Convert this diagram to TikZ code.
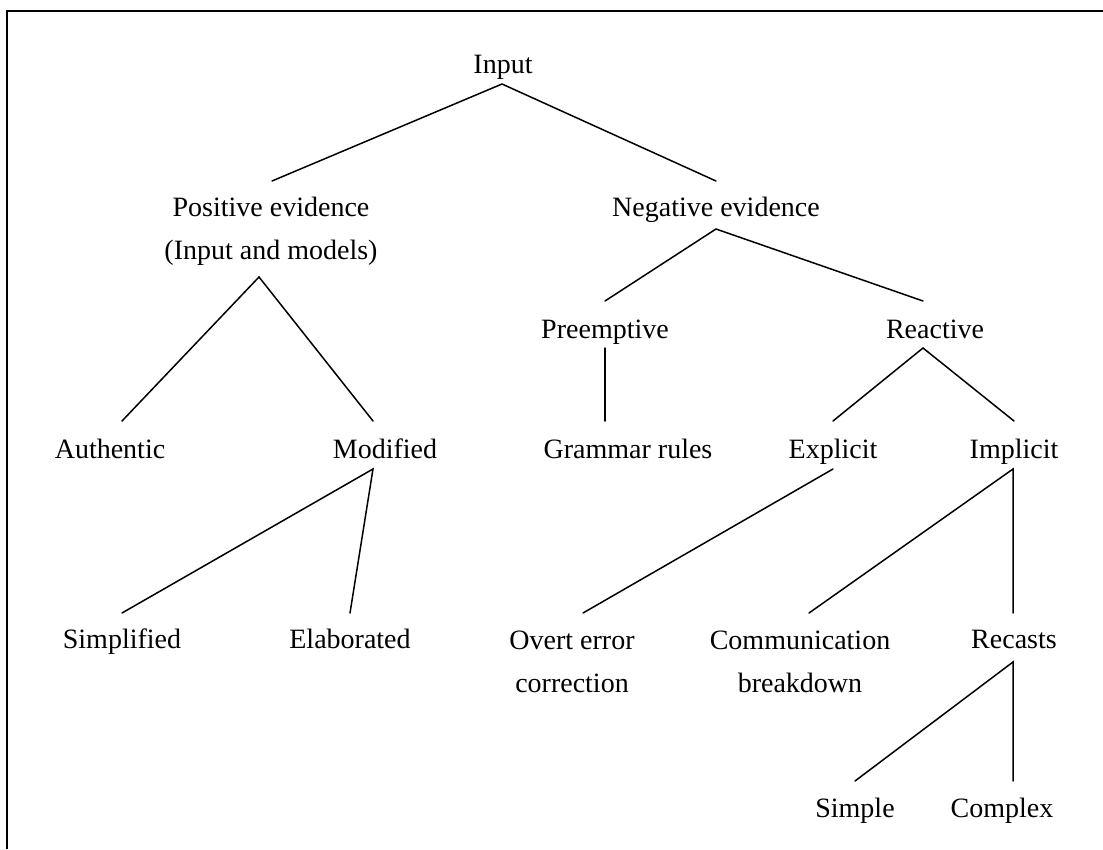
\documentclass[tikz,border=0pt]{standalone}
\usepackage{fontspec}
\setmainfont{Liberation Serif}
\begin{document}
\begin{tikzpicture}[x=1pt,y=-1pt,
  tnode/.style={inner sep=0pt, anchor=base, align=center, font=\fontsize{28}{43}\selectfont},
  branch/.style={line width=1.5pt, line cap=round},
  frame/.style={line width=2pt}]
\useasboundingbox (0,0) rectangle (1103,849);
\draw[frame] (7,849) -- (7,11) -- (1103,11);

\node[tnode] (input) at (503,73) {Input};
\node[tnode] (pos) at (271,259) {Positive evidence\\(Input and models)};
\node[tnode] (neg) at (716,216) {Negative evidence};
\node[tnode] (pre) at (605,338) {Preemptive};
\node[tnode] (rea) at (935,338) {Reactive};
\node[tnode] (aut) at (110,458) {Authentic};
\node[tnode] (mod) at (385,458) {Modified};
\node[tnode] (gram) at (628,458) {Grammar rules};
\node[tnode] (expl) at (833,458) {Explicit};
\node[tnode] (impl) at (1014,458) {Implicit};
\node[tnode] (simp) at (122,648) {Simplified};
\node[tnode] (elab) at (350,648) {Elaborated};
\node[tnode] (overt) at (572,692) {Overt error\\correction};
\node[tnode] (comm) at (800,692) {Communication\\breakdown};
\node[tnode] (rec) at (1014,648) {Recasts};
\node[tnode] (simple) at (855,817) {Simple};
\node[tnode] (complex) at (1002,817) {Complex};

\draw[branch] ([shift={(1,-78)}]pos.base) -- ([shift={(-1,11)}]input.base) -- ([shift={(0,-35)}]neg.base);
\draw[branch] ([shift={(12,-37)}]aut.base) -- ([shift={(-12,18)}]pos.base) -- ([shift={(-12,-37)}]mod.base);
\draw[branch] ([shift={(0,-37)}]pre.base) -- ([shift={(0,13)}]neg.base) -- ([shift={(-12,-37)}]rea.base);
\draw[branch] ([shift={(0,10)}]pre.base) -- ([shift={(-23,-37)}]gram.base);
\draw[branch] ([shift={(0,-37)}]expl.base) -- ([shift={(-12,10)}]rea.base) -- ([shift={(0,-37)}]impl.base);
\draw[branch] ([shift={(0,-35)}]simp.base) -- ([shift={(-12,11)}]mod.base) -- ([shift={(0,-35)}]elab.base);
\draw[branch] ([shift={(0,11)}]expl.base) -- ([shift={(11,-79)}]overt.base);
\draw[branch] ([shift={(9,-79)}]comm.base) -- ([shift={(-1,11)}]impl.base) -- ([shift={(-1,-35)}]rec.base);
\draw[branch] ([shift={(0,-36)}]simple.base) -- ([shift={(-1,14)}]rec.base) -- ([shift={(11,-36)}]complex.base);
\end{tikzpicture}
\end{document}
